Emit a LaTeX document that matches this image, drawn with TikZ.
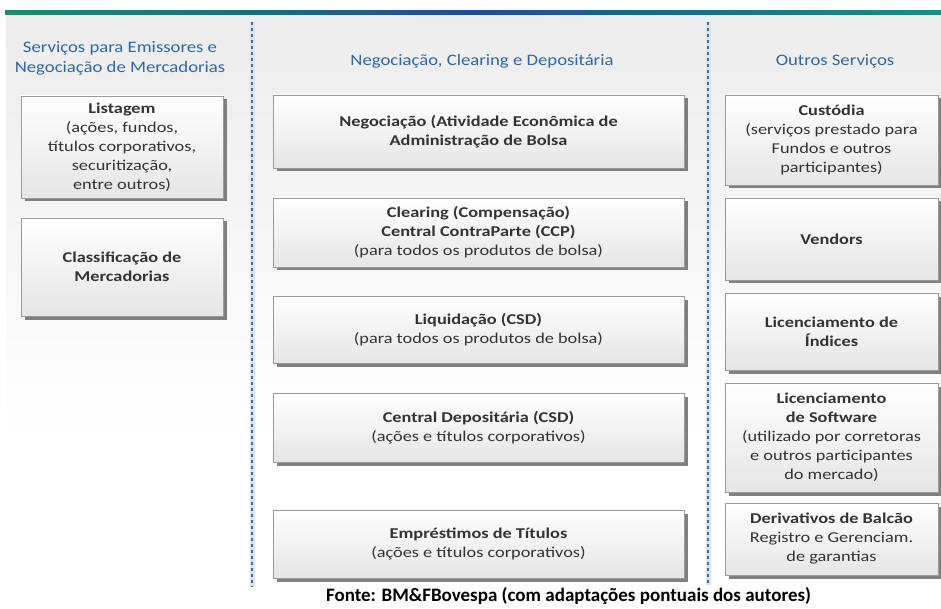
\documentclass[tikz,border=0pt]{standalone}
\usepackage{fontspec}
\setmainfont{Carlito}
\newfontfamily\boxfont{Carlito}[FakeStretch=1.22]
\newfontfamily\headfont{Carlito}[FakeStretch=1.17]
\usetikzlibrary{shadows}

\definecolor{hdrblue}{HTML}{2D69A3}
\definecolor{txt}{HTML}{333333}
\definecolor{divider}{HTML}{4C6A90}
\definecolor{dividerglow}{HTML}{D6E6F5}
\definecolor{bargreen}{HTML}{22896F}
\definecolor{barblue}{HTML}{1D4F94}
\definecolor{barteal}{HTML}{1E8C86}
\definecolor{boxedge}{HTML}{9A9A9A}
\definecolor{panel}{HTML}{ECECEC}

\tikzset{
  svcbox/.style={draw=boxedge, line width=0.6pt, top color=white, bottom color=black!10,
    align=center, text=txt, font=\boxfont\fontsize{15}{19}\selectfont, inner sep=2pt,
    drop shadow={shadow xshift=3.5pt, shadow yshift=-3.5pt, fill=black!62, opacity=0.8}},
  colhead/.style={align=center, text=hdrblue, font=\headfont\fontsize{16}{20}\selectfont},
  sepline/.style={divider, line width=1.8pt, dash pattern=on 3pt off 3pt},
  sepglow/.style={dividerglow, line width=5pt},
}

\begin{document}
\begin{tikzpicture}[x=1pt,y=-1pt]
\useasboundingbox (0,0) rectangle (941,609);

% page background and title bar
\fill[white] (0,0) rectangle (941,609);
\shade[top color=panel, bottom color=white] (6,15) rectangle (941,440);
\shade[left color=bargreen, right color=barteal, middle color=barblue] (5,10.5) rectangle (941,15);

% column separators
\coordinate (s1top) at (252,22);
\coordinate (s1bot) at (252,587);
\coordinate (s2top) at (708,22);
\coordinate (s2bot) at (708,585);
\draw[sepglow] (s1top) -- (s1bot);
\draw[sepglow] (s2top) -- (s2bot);
\draw[sepline] (s1top) -- (s1bot);
\draw[sepline] (s2top) -- (s2bot);

% column headings
\node[colhead] (h1) at (120,58) {Serviços para Emissores e\\Negociação de Mercadorias};
\node[colhead] (h2) at (482,61) {Negociação, Clearing e Depositária};
\node[colhead] (h3) at (835,61) {Outros Serviços};

% left column
\node[svcbox, minimum width=202pt, minimum height=102pt] (listagem) at (122,147)
  {\textbf{Listagem}\\(ações, fundos,\\títulos corporativos,\\securitização,\\entre outros)};
\node[svcbox, minimum width=202pt, minimum height=98pt] (classif) at (122,267)
  {\textbf{Classificação de}\\\textbf{Mercadorias}};

% middle column
\node[svcbox, minimum width=411pt, minimum height=73pt] (negoc) at (478.5,131.5)
  {\textbf{Negociação (Atividade Econômica de}\\\textbf{Administração de Bolsa}};
\node[svcbox, minimum width=411pt, minimum height=69pt] (clearing) at (478.5,232.5)
  {\textbf{Clearing (Compensação)}\\\textbf{Central ContraParte (CCP)}\\(para todos os produtos de bolsa)};
\node[svcbox, minimum width=411pt, minimum height=67pt] (liquid) at (478.5,329.5)
  {\textbf{Liquidação (CSD)}\\(para todos os produtos de bolsa)};
\node[svcbox, minimum width=411pt, minimum height=69pt] (central) at (478.5,427.5)
  {\textbf{Central Depositária (CSD)}\\(ações e títulos corporativos)};
\node[svcbox, minimum width=411pt, minimum height=68pt] (emprest) at (478.5,544)
  {\textbf{Empréstimos de Títulos}\\(ações e títulos corporativos)};

% right column
\node[svcbox, minimum width=213pt, minimum height=90pt] (custodia) at (831.5,140)
  {\textbf{Custódia}\\(serviços prestado para\\Fundos e outros\\participantes)};
\node[svcbox, minimum width=213pt, minimum height=82pt] (vendors) at (831.5,239)
  {\textbf{Vendors}};
\node[svcbox, minimum width=213pt, minimum height=77pt] (indices) at (831.5,331.5)
  {\textbf{Licenciamento de}\\\textbf{Índices}};
\node[svcbox, minimum width=213pt, minimum height=109pt] (software) at (831.5,437.5)
  {\textbf{Licenciamento}\\\textbf{de Software}\\(utilizado por corretoras\\e outros participantes\\do mercado)};
\node[svcbox, minimum width=213pt, minimum height=72pt] (deriv) at (831.5,539)
  {\textbf{Derivativos de Balcão}\\Registro e Gerenciam.\\de garantias};

% source line
\node[font=\bfseries\fontsize{19}{22}\selectfont, text=black] (fonte) at (568.5,596)
  {Fonte: BM\&FBovespa (com adaptações pontuais dos autores)};
\end{tikzpicture}
\end{document}
